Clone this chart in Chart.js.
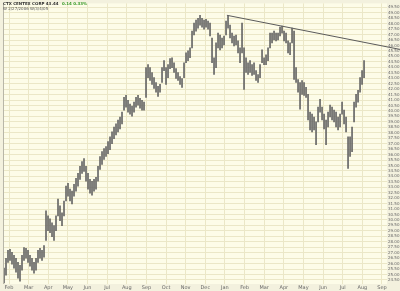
<!DOCTYPE html>
<html>
<head>
<meta charset="utf-8">
<script src="https://cdn.jsdelivr.net/npm/chart.js@4.4.1/dist/chart.umd.min.js"></script>
<style>
  body { margin: 0; background: #fdfce8; }
  #wrap { position: relative; width: 400px; height: 291px; }
  #title { position: absolute; left: 3px; top: 1px; font: bold 4px "DejaVu Sans", sans-serif; color: #333; white-space: nowrap; }
  #title .chg { color: #3a9a2a; margin-left: 2px; }
  #sub { position: absolute; left: 3px; top: 6px; font: 4px "DejaVu Sans", sans-serif; color: #555; white-space: nowrap; }
</style>
</head>
<body>
<div id="wrap">
  <canvas id="myChart" width="400" height="291"></canvas>
  <div id="title">CTX CENTEX CORP 43.44 <span class="chg">0.14 0.33%</span></div>
  <div id="sub">W 2/27/2006 W/3/4/05</div>
</div>
<script>
const monthLabels = ['Feb', 'Mar', 'Apr', 'May', 'Jun', 'Jul', 'Aug', 'Sep', 'Oct', 'Nov',
  'Dec', 'Jan', 'Feb', 'Mar', 'Apr', 'May', 'Jun', 'Jul', 'Aug', 'Sep'];

// bars, about two per week, first one just before Feb
const firstBarMonth = -0.255;
const barStep = 0.1019;

const barHigh = [
  25.58, 26.49, 27.21, 27.30, 27.03, 26.76, 26.49, 26.12, 25.85, 26.76,
  27.48, 27.39, 27.21, 26.76, 26.49, 26.12, 26.49, 27.21, 27.39, 27.21,
  27.66, 30.83, 30.38, 30.11, 29.75, 29.48, 30.38, 31.92, 31.29, 30.65,
  31.74, 33.10, 33.37, 32.83, 32.65, 33.28, 33.82, 34.28, 34.91, 35.36,
  35.64, 34.91, 34.28, 33.73, 33.55, 33.73, 33.91, 34.91, 35.82, 36.27,
  36.54, 36.72, 37.18, 37.63, 38.08, 38.53, 38.81, 39.17, 39.44, 39.89,
  41.25, 41.43, 40.98, 40.62, 40.44, 40.80, 41.25, 41.43, 41.16, 40.98,
  40.80, 43.97, 44.24, 43.97, 43.52, 43.06, 42.61, 42.25, 42.43, 43.97,
  44.61, 43.97, 44.24, 44.79, 44.88, 44.42, 43.88, 43.52, 43.16, 42.97,
  44.42, 45.33, 45.51, 45.78, 47.32, 48.05, 48.32, 48.50, 48.77, 48.50,
  48.32, 48.41, 48.23, 48.05, 46.69, 44.88, 46.24, 47.14, 46.96, 46.69,
  46.87, 48.23, 48.77, 47.87, 47.14, 46.87, 46.96, 46.42, 45.78, 48.05,
  45.78, 44.88, 44.42, 44.61, 44.24, 44.42, 43.70, 43.34, 44.24, 45.60,
  44.88, 45.15, 45.78, 47.14, 47.14, 47.32, 47.14, 47.14, 47.69, 47.78,
  47.32, 47.14, 46.42, 46.24, 47.60, 47.32, 43.97, 42.88, 42.61, 42.79,
  42.61, 42.16, 41.52, 39.89, 39.71, 39.44, 38.99, 40.35, 41.07, 40.35,
  39.71, 39.17, 39.89, 40.53, 40.35, 40.08, 39.89, 39.44, 39.71, 40.80,
  40.08, 39.44, 37.63, 37.63, 38.53, 40.80, 41.52, 41.89, 43.06, 43.70,
  44.61
];

const barLow = [
  24.22, 24.95, 26.12, 26.30, 25.94, 25.58, 25.22, 24.67, 24.40, 25.40,
  26.30, 26.49, 26.12, 25.76, 25.40, 25.13, 25.40, 26.12, 26.49, 26.30,
  26.58, 28.12, 29.02, 28.84, 28.48, 28.12, 29.02, 30.38, 29.93, 29.48,
  30.38, 31.74, 32.19, 31.74, 31.47, 32.19, 32.65, 33.10, 33.73, 34.28,
  34.46, 33.55, 32.83, 32.47, 32.28, 32.65, 32.83, 33.55, 34.64, 35.09,
  35.55, 35.82, 36.09, 36.45, 37.00, 37.45, 37.81, 38.08, 38.35, 38.81,
  40.08, 40.35, 39.89, 39.71, 39.53, 39.89, 40.35, 40.53, 40.26, 40.08,
  40.08, 41.25, 43.06, 42.79, 42.43, 42.07, 41.71, 41.34, 41.71, 42.61,
  43.70, 42.43, 43.06, 43.88, 43.97, 43.52, 42.97, 42.79, 42.43, 42.16,
  43.06, 44.42, 44.61, 44.88, 45.78, 46.96, 47.32, 47.60, 47.87, 47.69,
  47.50, 47.69, 47.50, 46.87, 44.42, 43.34, 43.97, 45.78, 45.60, 45.78,
  46.06, 46.96, 47.60, 46.69, 46.24, 45.96, 46.06, 45.33, 44.42, 45.33,
  41.98, 43.52, 43.34, 43.52, 43.25, 43.34, 42.79, 42.61, 43.06, 44.42,
  44.24, 44.24, 44.61, 45.78, 46.24, 46.51, 46.42, 46.51, 46.87, 47.14,
  46.42, 46.24, 45.33, 45.15, 46.24, 42.88, 42.61, 41.71, 40.17, 41.52,
  41.43, 41.25, 39.17, 38.26, 38.08, 38.26, 36.90, 38.99, 39.89, 39.17,
  38.35, 36.90, 38.53, 39.44, 39.17, 38.99, 38.53, 38.26, 38.53, 39.71,
  38.81, 38.08, 34.73, 35.82, 36.27, 38.99, 40.35, 40.80, 41.71, 42.43,
  43.06
];

// resistance line from the top in Jan
const trendMonths = [11.1, 19.92];
const trendValues = [48.77, 45.64];

const yMin = 24.13;
const yMax = 49.86;

const bars = barHigh.map((h, i) => ({ x: firstBarMonth + i * barStep, y: [barLow[i], h] }));
const trend = trendMonths.map((m, i) => ({ x: m, y: trendValues[i] }));

const paper = {
  id: 'paper',
  beforeDraw(chart) {
    const { ctx, chartArea: a } = chart;
    ctx.save();
    ctx.fillStyle = '#f3f1de';
    ctx.fillRect(0, 0, chart.width, chart.height);
    ctx.fillStyle = '#fdfce8';
    ctx.fillRect(a.left, a.top, a.right - a.left, a.bottom - a.top);
    ctx.strokeStyle = '#b8b6a8';
    ctx.lineWidth = 1;
    ctx.beginPath();
    ctx.moveTo(a.left - 0.5, a.top);
    ctx.lineTo(a.left - 0.5, a.bottom);
    ctx.stroke();
    ctx.restore();
  }
};

const ctx = document.getElementById('myChart').getContext('2d');
const myChart = new Chart(ctx, {
  data: {
    datasets: [
      {
        type: 'bar',
        data: bars,
        backgroundColor: '#666666',
        borderWidth: 0,
        barThickness: 1,
        grouped: false,
      },
      {
        type: 'line',
        data: trend,
        borderColor: '#5a5a5a',
        borderWidth: 1,
        pointRadius: 0,
        clip: false,
      },
    ],
  },
  options: {
    responsive: false,
    animation: false,
    layout: { padding: { left: 4 } },
    plugins: { legend: { display: false }, tooltip: { enabled: false } },
    scales: {
      x: {
        type: 'linear',
        offset: false,
        min: firstBarMonth,
        max: 19.256,
        afterFit(s) { s.height = 7; },
        grid: { color: '#ebe7c7', drawTicks: false, offset: false },
        border: { display: false },
        ticks: {
          stepSize: 1,
          includeBounds: false,
          autoSkip: false,
          maxRotation: 0,
          padding: 1,
          color: '#666',
          font: { size: 5, family: 'DejaVu Sans' },
          callback: (v) => monthLabels[v] || '',
        },
      },
      y: {
        position: 'right',
        min: yMin,
        max: yMax,
        afterFit(s) { s.width = 13; },
        grid: { color: '#ebe7c7', drawTicks: false },
        border: { display: false },
        ticks: {
          stepSize: 0.5,
          includeBounds: false,
          autoSkip: false,
          padding: 1,
          color: '#666',
          font: { size: 4, family: 'DejaVu Sans' },
          callback: (v) => v.toFixed(2),
        },
      },
    },
  },
  plugins: [paper],
});
</script>
</body>
</html>
